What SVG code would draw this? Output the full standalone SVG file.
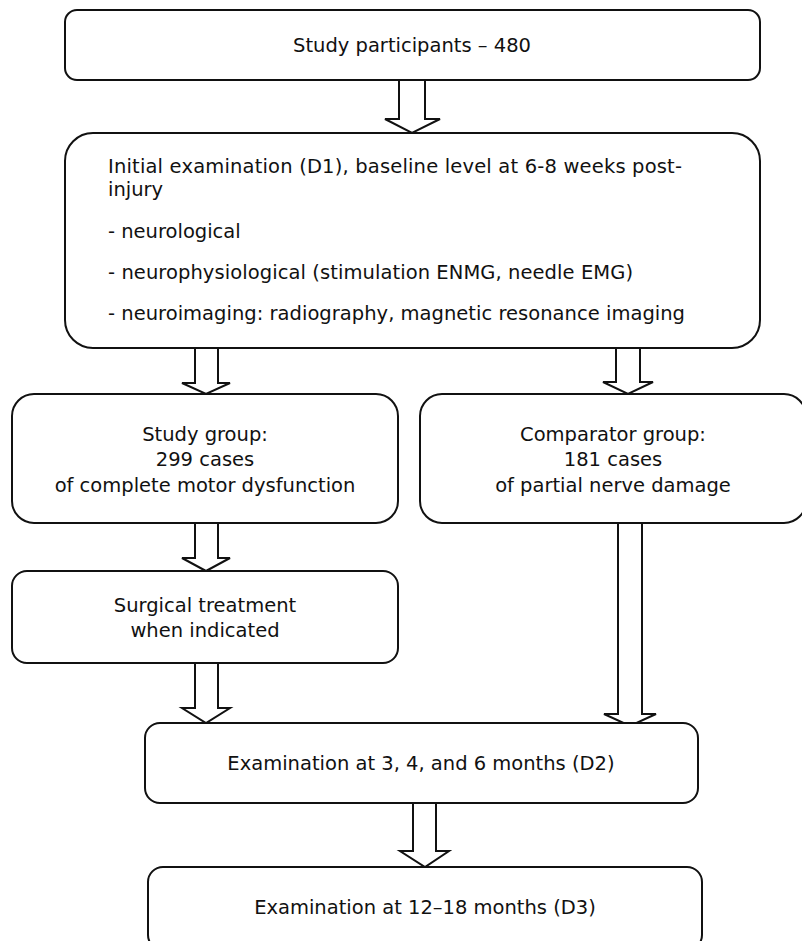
<svg xmlns="http://www.w3.org/2000/svg" width="802" height="941" viewBox="0 0 802 941">
<style>
.box{fill:#fff;stroke:#111;stroke-width:2}
.arr{fill:#fff;stroke:#111;stroke-width:2;stroke-linejoin:miter}
text{font-family:"DejaVu Sans","Liberation Sans",sans-serif;font-size:19.5px;fill:#111}
.c{text-anchor:middle}
</style>
<rect width="802" height="941" fill="#fff"/>
<g id="connectors">
<path class="arr" d="M399,80 V119 H385 L412,133 L440,119 H425 V80 Z"/>
<path class="arr" d="M195,348 V383 H182 L206,394 L230,383 H218 V348 Z"/>
<path class="arr" d="M616,348 V382 H603 L628,394 L653,382 H640 V348 Z"/>
<path class="arr" d="M195,523 V558 H182 L206,571 L230,558 H218 V523 Z"/>
<path class="arr" d="M195,663 V708 H182 L206,723 L230,708 H218 V663 Z"/>
<path class="arr" d="M618,523 V714 H604 L630,726 L656,714 H642 V523 Z"/>
<path class="arr" d="M413,803 V851 H400 L425,867 L449,851 H436 V803 Z"/>
</g>
<g id="n1">
<rect class="box" x="65" y="10" width="695" height="70" rx="12"/>
<text class="c" x="412" y="52">Study participants – 480</text>
</g>
<g id="n2">
<rect class="box" x="65" y="133" width="695" height="215" rx="28"/>
<text x="108" y="173" textLength="574" lengthAdjust="spacing">Initial examination (D1), baseline level at 6-8 weeks post-</text>
<text x="108" y="196">injury</text>
<text x="108" y="238">- neurological</text>
<text x="108" y="279" textLength="525" lengthAdjust="spacing">- neurophysiological (stimulation ENMG, needle EMG)</text>
<text x="108" y="320" textLength="577" lengthAdjust="spacing">- neuroimaging: radiography, magnetic resonance imaging</text>
</g>
<g id="n3">
<rect class="box" x="12" y="394" width="386" height="129" rx="22"/>
<text class="c" x="205" y="441">Study group:</text>
<text class="c" x="205" y="466">299 cases</text>
<text class="c" x="205" y="492">of complete motor dysfunction</text>
</g>
<g id="n4">
<rect class="box" x="420" y="394" width="386" height="129" rx="22"/>
<text class="c" x="613" y="441">Comparator group:</text>
<text class="c" x="613" y="466">181 cases</text>
<text class="c" x="613" y="492">of partial nerve damage</text>
</g>
<g id="n5">
<rect class="box" x="12" y="571" width="386" height="92" rx="15"/>
<text class="c" x="205" y="612">Surgical treatment</text>
<text class="c" x="205" y="637">when indicated</text>
</g>
<g id="n6">
<rect class="box" x="145" y="723" width="553" height="80" rx="15"/>
<text class="c" x="421" y="770">Examination at 3, 4, and 6 months (D2)</text>
</g>
<g id="n7">
<rect class="box" x="148" y="867" width="554" height="83" rx="15"/>
<text class="c" x="425" y="914">Examination at 12–18 months (D3)</text>
</g>
</svg>
